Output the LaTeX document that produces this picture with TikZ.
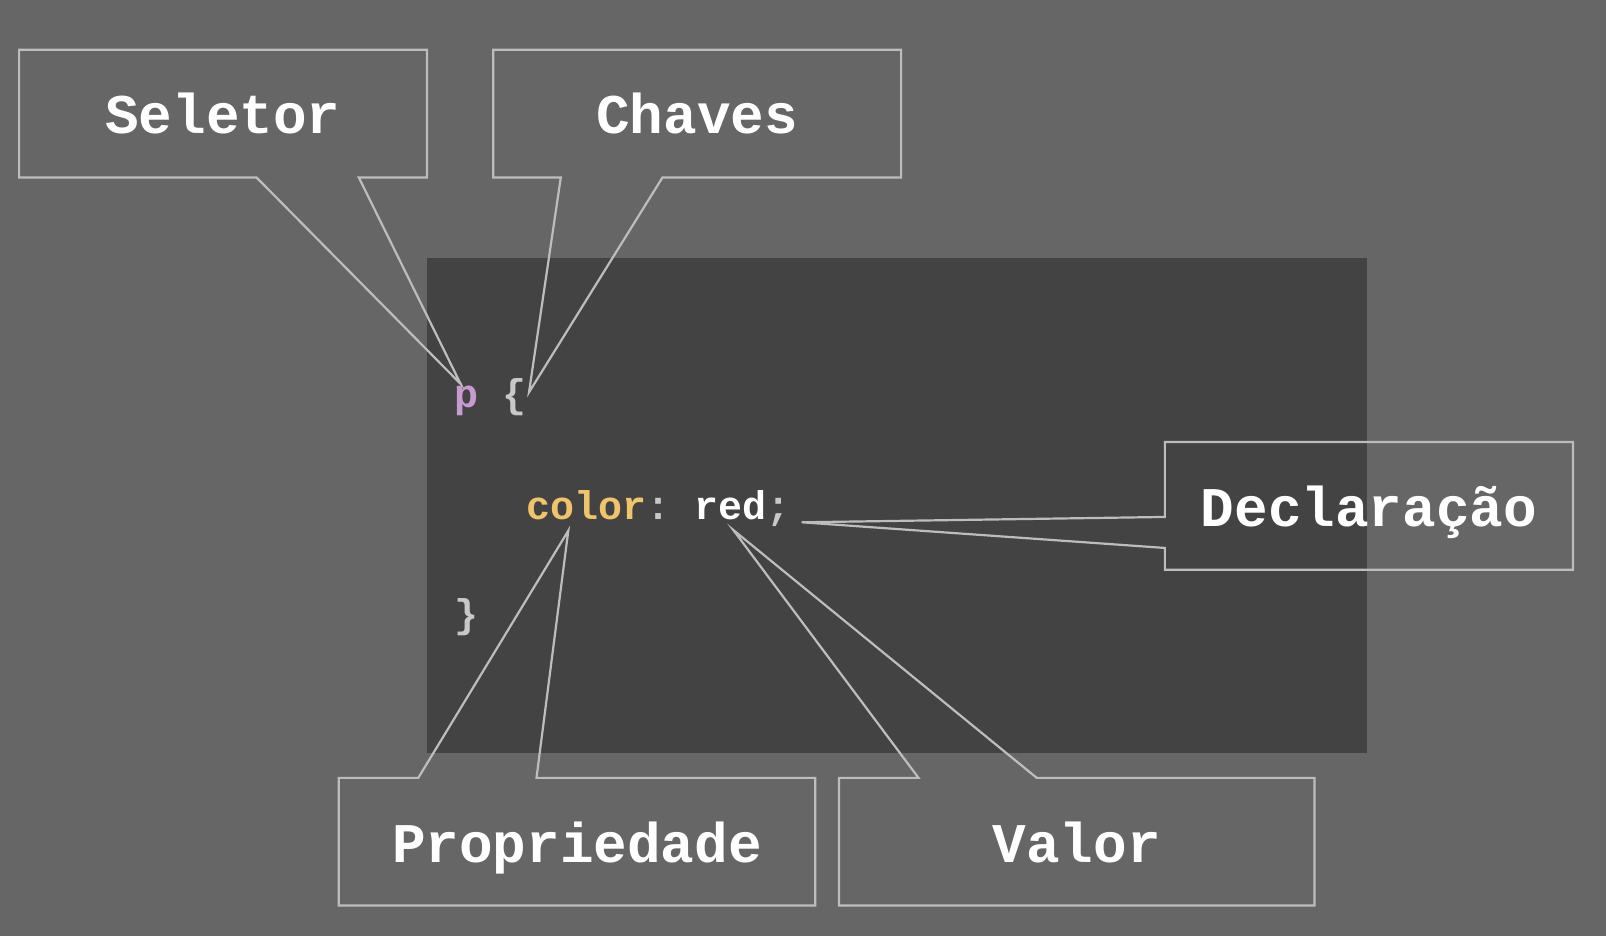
\documentclass[tikz,border=0pt]{standalone}
\usepackage{fontspec}
\setmonofont{Liberation Mono}
\definecolor{bgGray}{HTML}{666666}
\definecolor{codeGray}{HTML}{434343}
\definecolor{calloutGray}{HTML}{BDBDBD}
\definecolor{selPurple}{HTML}{C79BD2}
\definecolor{propYellow}{HTML}{F0C46A}
\definecolor{punctGray}{HTML}{C8C8C8}
\begin{document}
\begin{tikzpicture}
[x=1pt,y=-1pt,
  calloutDecorate/.style={draw=calloutGray,line width=2.2pt,line join=miter},
  labelDecorate/.style={inner sep=0pt,text=white,
    font=\ttfamily\bfseries\fontsize{56}{60}\selectfont,
    text height=40.7pt,text depth=0pt,minimum height=127.3pt},
  codeDecorate/.style={inner sep=0pt,anchor=base west,
    font=\ttfamily\bfseries\fontsize{40}{44}\selectfont}]
\fill[bgGray] (0,0) rectangle (1606,936);
\useasboundingbox (0,0) rectangle (1606,936);
\fill[codeGray] (426.7,258) rectangle (1366.7,753.3);
%% code lines
\node (lineSel) at (454,407) [codeDecorate]
  {\textcolor{selPurple}{p} \textcolor{punctGray}{\{}};
\node (lineDecl) at (526,519.5) [codeDecorate]
  {\textcolor{propYellow}{color}\textcolor{punctGray}{:} \textcolor{white}{red}\textcolor{punctGray}{;}};
\node (lineEnd) at (454,627) [codeDecorate,text=punctGray] {\}};
%% pointer tips
\coordinate (tipSel) at (460.7,384);
\coordinate (tipChv) at (529,392.3);
\coordinate (tipDec) at (801.7,522.3);
\coordinate (tipProp) at (568.3,530.7);
\coordinate (tipVal) at (733.3,530);
%% labels
\foreach \nodename/\x/\y/\w/\txt in {
  sel/223/113.6/407.4/Seletor,
  chv/697.2/113.6/407.4/Chaves,
  dec/1368.9/505.8/407.7/Declaração,
  prop/577/841.7/476/Propriedade,
  val/1076.7/841.7/475/Valor}
{
  \node (\nodename) at (\x,\y) [labelDecorate,minimum width=\w pt] {\txt};
}
%% callouts
\draw[calloutDecorate] (sel.south west) -- (sel.north west) -- (sel.north east)
  -- (sel.south east) -- ([xshift=339.7pt]sel.south west) -- (tipSel)
  -- ([xshift=237.4pt]sel.south west) -- cycle;
\draw[calloutDecorate] (chv.south west) -- (chv.north west) -- (chv.north east)
  -- (chv.south east) -- ([xshift=169.2pt]chv.south west) -- (tipChv)
  -- ([xshift=67.5pt]chv.south west) -- cycle;
\draw[calloutDecorate] (dec.north west) -- (dec.north east) -- (dec.south east)
  -- (dec.south west) -- ([yshift=-106pt]dec.north west) -- (tipDec)
  -- ([yshift=-75pt]dec.north west) -- cycle;
\foreach \nodename/\tipname in {prop/tipProp, val/tipVal}
{
  \draw[calloutDecorate] (\nodename.north west) -- ([xshift=79.5pt]\nodename.north west)
    -- (\tipname) -- ([xshift=197.7pt]\nodename.north west) -- (\nodename.north east)
    -- (\nodename.south east) -- (\nodename.south west) -- cycle;
}
\end{tikzpicture}
\end{document}
